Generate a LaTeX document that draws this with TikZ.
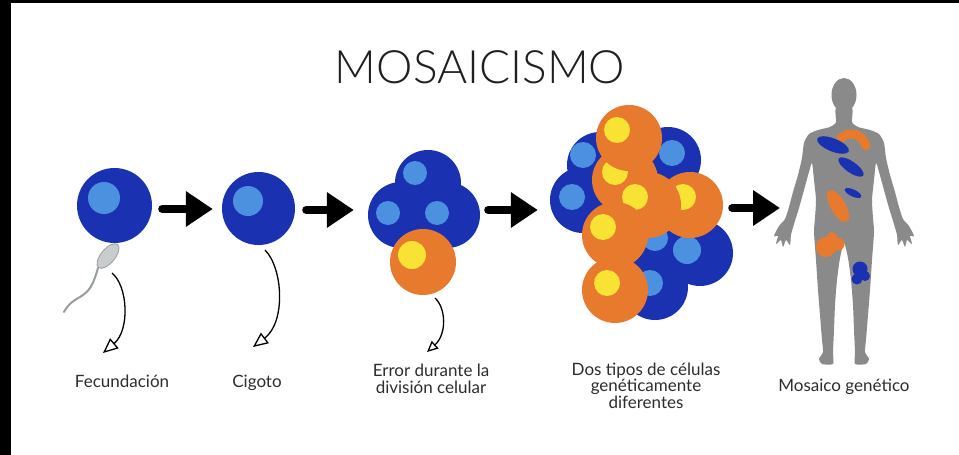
\documentclass[tikz,border=0pt]{standalone}
\usepackage{fontspec}
\setmainfont{Lato}
\newfontfamily\titlefont{Lato}[UprightFont=* Light]
\usetikzlibrary{arrows.meta,calc,shapes.geometric}
\definecolor{cellblue}{RGB}{26,50,178}
\definecolor{nucblue}{RGB}{76,144,224}
\definecolor{cellorange}{RGB}{232,122,46}
\definecolor{nucyellow}{RGB}{248,226,52}
\definecolor{bodygray}{RGB}{138,138,138}
\definecolor{inkgray}{RGB}{45,45,45}
\definecolor{spermfill}{RGB}{200,204,204}
\definecolor{spermline}{RGB}{150,158,158}
\begin{document}
\begin{tikzpicture}[x=1pt,y=-1pt,
  bcell/.style={circle, fill=cellblue, inner sep=0pt, minimum size=66pt},
  ocell/.style={circle, fill=cellorange, inner sep=0pt, minimum size=66pt},
  bnuc/.style={circle, fill=nucblue, inner sep=0pt, minimum size=26pt},
  ynuc/.style={circle, fill=nucyellow, inner sep=0pt, minimum size=26pt},
  bigarrow/.style={line width=8pt, line cap=round, -{Triangle[length=27pt,width=34pt]}},
  curl/.style={line width=1.3pt, -{Triangle[open,length=15pt,width=13pt]}},
  steptext/.style={font=\fontsize{17}{16.5}\selectfont, text=inkgray, align=center, anchor=base, inner sep=0pt},
]
% canvas and frame
\useasboundingbox (0,0) rectangle (959,455);
\fill[white] (0,0) rectangle (959,455);
\fill[black] (0,0) rectangle (11,455);
\fill[black] (0,0) rectangle (959,3);

% title
\node[font=\titlefont\fontsize{46}{46}\selectfont, text=black!88, anchor=base, inner sep=0pt] (title) at (480,83) {MOSAICISMO};

% stage 1: egg and sperm
\draw[spermline, line width=2pt, line cap=round] (98,268) .. controls (93,285) and (90,291) .. (80,297) .. controls (71,302) and (68,305) .. (64,312);
\node[ellipse, fill=spermfill, draw=spermline, line width=0.8pt, minimum width=30pt, minimum height=14pt, inner sep=0pt, rotate=50] (sp) at (108,256) {};
\node[bcell, minimum size=75pt] (c1) at (114.5,205.5) {};
\node[bnuc, minimum size=32pt] (n1) at (104,198) {};

% stage 2: zygote
\node[bcell, minimum size=73pt] (c2) at (258.5,208.5) {};
\node[bnuc, minimum size=30pt] (n2) at (248,201) {};

% stage 3: division with one altered cell
\node[bcell] (c3t) at (428,183) {};
\node[bcell] (c3l) at (401,215) {};
\node[bcell] (c3r) at (447,215) {};
\node[bnuc, minimum size=24pt] (n3t) at (415,173) {};
\node[bnuc, minimum size=24pt] (n3l) at (388,213) {};
\node[bnuc, minimum size=24pt] (n3r) at (437,213) {};
\node[ocell] (o3) at (423,262) {};
\node[ynuc, minimum size=28pt] (y3) at (412,255) {};

% stage 4: two cell lines
\node[bcell] (b1) at (600,165) {};
\node[bcell] (b2) at (583,200) {};
\node[bcell] (b3) at (668,160) {};
\node[bcell] (b6) at (655,235) {};
\node[bcell] (b4) at (700,253) {};
\node[bcell] (b5) at (655,287) {};
\node[bnuc] (nb1) at (583,155) {};
\node[bnuc] (nb2) at (572,197) {};
\node[bnuc] (nb3) at (672,153) {};
\node[bnuc] (nb6) at (655,238) {};
\node[bnuc, minimum size=28pt] (nb4) at (687,250) {};
\node[bnuc] (nb5) at (650,283) {};
\node[ocell] (o4) at (690,205) {};
\node[ynuc] (y4) at (683,197) {};
\node[ocell] (o2) at (625,180) {};
\node[ynuc] (y2) at (615,172) {};
\node[ocell] (o1) at (629,138) {};
\node[ynuc] (y1) at (617,130) {};
\node[ocell] (o3b) at (648,205) {};
\node[ynuc] (y3b) at (635,197) {};
\node[ocell] (o5) at (615,235) {};
\node[ynuc] (y5) at (603,227) {};
\node[ocell] (o6) at (615,290) {};
\node[ynuc] (y6) at (607,283) {};

% stage 5: human silhouette
\fill[bodygray] (844,95) ellipse [x radius=12.5, y radius=17];
\fill[bodygray] plot[smooth cycle, tension=0.4] coordinates {
  (852,108) (852,122) (858,127) (870,130) (879,134) (884,143) (886,158)
  (890,175) (895,192) (899,207) (903,219) (909,226) (914,236) (910,236)
  (912,244) (907,240) (905,247) (902,240) (898,245) (897,235) (894,224)
  (889,208) (884,190) (879,172) (876,163) (874,180) (872,200) (873,218)
  (874,232) (872,260) (870,290) (868,315) (866,340) (865,352) (869,359)
  (866,364) (855,364) (855,352) (854,330) (853,305) (851,280) (848,258)
  (844,243)
  (840,258) (837,280) (835,305) (834,330) (833,352) (833,364) (822,364)
  (819,359) (823,352) (822,340) (820,315) (818,290) (816,260) (814,232)
  (815,218) (816,200) (814,180) (812,163) (809,172) (804,190) (799,208)
  (794,224) (791,235) (790,245) (786,240) (783,247) (781,240) (776,244)
  (778,236) (774,236) (779,226) (785,219) (789,207) (793,192) (798,175)
  (802,158) (804,143) (809,134) (818,130) (830,127) (836,122) (836,108)};
% mosaic patches
\draw[cellorange, line width=9pt, line cap=round] (841,138) .. controls (850,131) and (862,133) .. (866,146);
\fill[cellblue, rotate around={-22:(833,145)}] (833,145) ellipse [x radius=17, y radius=6.5];
\fill[cellblue, rotate around={-35:(851,167)}] (851,167) ellipse [x radius=15, y radius=5.5];
\fill[cellblue, rotate around={-25:(853,193)}] (853,193) ellipse [x radius=9, y radius=3.5];
\fill[cellorange, rotate around={-60:(838,206)}] (838,206) ellipse [x radius=18, y radius=7.5];
\fill[cellorange] (826,247) circle [radius=10] (832,237) circle [radius=5] (838,244) circle [radius=6.5];
\fill[cellblue] (860,269) circle [radius=7.5] (857,279) circle [radius=5.5] (865,276) circle [radius=5];
\coordinate (bodyleft) at (780,208);

% progression arrows
\draw[bigarrow] ($(c1.east)+(10,3.5)$) -- ($(c2.west)+(-9,0.5)$);
\draw[bigarrow] ($(c2.east)+(11,1.5)$) -- ($(c3l.west)+(-14,-5)$);
\draw[bigarrow] ($(c3r.east)+(8,-5)$) -- ($(b2.west)+(-12,10)$);
\draw[bigarrow] ($(o4.east)+(9,3)$) -- (bodyleft);

% captions (base anchor sits on the last line)
\node[steptext] (l1) at (122,387) {Fecundación};
\node[steptext] (l2) at (257,387) {Cigoto};
\node[steptext] (l3) at (431,393) {Error durante la\\división celular};
\node[steptext] (l4) at (646,408) {Dos tipos de células\\genéticamente\\diferentes};
\node[steptext] (l5) at (844,391) {Mosaico genético};

% pointers to captions
\coordinate (k1s) at (112,273);
\coordinate (k1e) at (103,353);
\coordinate (k2s) at (265,250);
\coordinate (k2e) at (253,347);
\coordinate (k3s) at (435,298);
\coordinate (k3e) at (427,352);
\draw[curl] (k1s) .. controls (128,286) and (130,330) .. (k1e);
\draw[curl] (k2s) .. controls (283,268) and (286,322) .. (k2e);
\draw[curl, -{Triangle[open,length=11pt,width=10pt]}] (k3s) .. controls (446,308) and (447,334) .. (k3e);
\end{tikzpicture}
\end{document}
